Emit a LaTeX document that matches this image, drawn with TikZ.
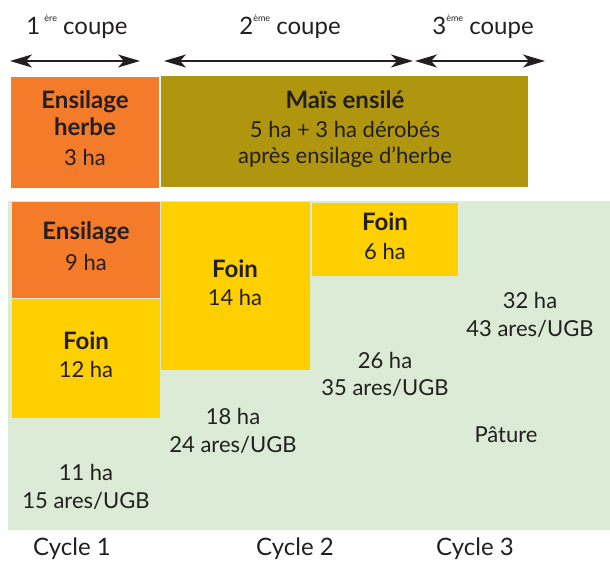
\documentclass[tikz,border=0pt]{standalone}
\usepackage{fontspec}
\setmainfont{Lato}
\usetikzlibrary{arrows.meta}
\definecolor{ctext}{HTML}{231F20}
\definecolor{corange}{HTML}{F47B2A}
\definecolor{colive}{HTML}{B0960F}
\definecolor{cyellow}{HTML}{FFD000}
\definecolor{cgreen}{HTML}{DBEBD6}
\tikzset{
  zone/.style={draw=none, inner sep=0pt, outer sep=0pt, rectangle},
  lbl/.style={text=ctext, inner sep=0pt, font=\fontsize{22}{24}\selectfont},
  blbl/.style={lbl, font=\fontsize{24}{26}\selectfont\bfseries},
  hdr/.style={text=ctext, inner sep=0pt, font=\fontsize{24}{26}\selectfont},
  cyc/.style={text=ctext, inner sep=0pt, font=\fontsize{24}{26}\selectfont},
  span/.style={draw=ctext, line width=1.3pt, {Stealth[length=22pt,width=13pt,inset=6pt]}-{Stealth[length=22pt,width=13pt,inset=6pt]}}
}
\newcommand{\supx}[1]{\raisebox{1.1ex}{\fontsize{9}{9}\selectfont #1}}
\begin{document}
\begin{tikzpicture}[x=1pt,y=-1pt]
\useasboundingbox (0,0) rectangle (610,562);
% background pasture
\node[zone, fill=cgreen, minimum width=602pt, minimum height=329pt, anchor=north west] (past) at (8,201) {};
% top boxes
\node[zone, fill=corange, minimum width=148pt, minimum height=111pt, anchor=north west] (eh) at (11,77) {};
\node[zone, fill=colive, minimum width=367pt, minimum height=111pt, anchor=north west] (mais) at (161,76) {};
% cycle boxes
\node[zone, fill=corange, minimum width=148pt, minimum height=96pt, anchor=north west] (ens) at (12,202) {};
\node[zone, fill=cyellow, minimum width=148pt, minimum height=119pt, anchor=north west] (f12) at (12,299) {};
\node[zone, fill=cyellow, minimum width=149pt, minimum height=168pt, anchor=north west] (f14) at (161,202) {};
\node[zone, fill=cyellow, minimum width=146pt, minimum height=73pt, anchor=north west] (f6) at (312,203) {};
% headers
\node[hdr] (h1) at (77,27) {1\,\supx{ère}\ coupe};
\node[hdr] (h2) at (290,27) {2\supx{ème}\ coupe};
\node[hdr] (h3) at (483,27) {3\supx{ème}\ coupe};
% arrows
\coordinate (a1l) at (10,61);
\coordinate (a1r) at (140,61);
\coordinate (a2l) at (164,61);
\coordinate (a2r) at (413,61);
\coordinate (a3l) at (415,61);
\coordinate (a3r) at (545,61);
\draw[span] (a1l) -- (a1r);
\draw[span] (a2l) -- (a2r);
\draw[span] (a3l) -- (a3r);
% texts
\node[blbl] (t1) at (85,102) {Ensilage};
\node[blbl] (t2) at (85,127) {herbe};
\node[lbl] (t3) at (85,157) {3 ha};
\node[blbl] (t4) at (345,100) {Maïs ensilé};
\node[lbl] (t5) at (345,129) {5 ha + 3 ha dérobés};
\node[lbl] (t6) at (345,157) {après ensilage d’herbe};
\node[blbl] (t7) at (86,233) {Ensilage};
\node[lbl] (t8) at (86,262) {9 ha};
\node[blbl] (t9) at (86,341) {Foin};
\node[lbl] (t10) at (86,369) {12 ha};
\node[blbl] (t11) at (235,269) {Foin};
\node[lbl] (t12) at (235,297) {14 ha};
\node[blbl] (t13) at (385,222) {Foin};
\node[lbl] (t14) at (385,251) {6 ha};
\node[lbl] (t15) at (530,300) {32 ha};
\node[lbl] (t16) at (530,329) {43 ares/UGB};
\node[lbl] (t17) at (385,360) {26 ha};
\node[lbl] (t18) at (385,388) {35 ares/UGB};
\node[lbl] (t19) at (233,416) {18 ha};
\node[lbl] (t20) at (233,445) {24 ares/UGB};
\node[lbl] (t21) at (506,435) {Pâture};
\node[lbl] (t22) at (86,472) {11 ha};
\node[lbl] (t23) at (86,501) {15 ares/UGB};
\node[cyc] (c1) at (72,549) {Cycle 1};
\node[cyc] (c2) at (295,549) {Cycle 2};
\node[cyc] (c3) at (475,549) {Cycle 3};
\end{tikzpicture}
\end{document}
